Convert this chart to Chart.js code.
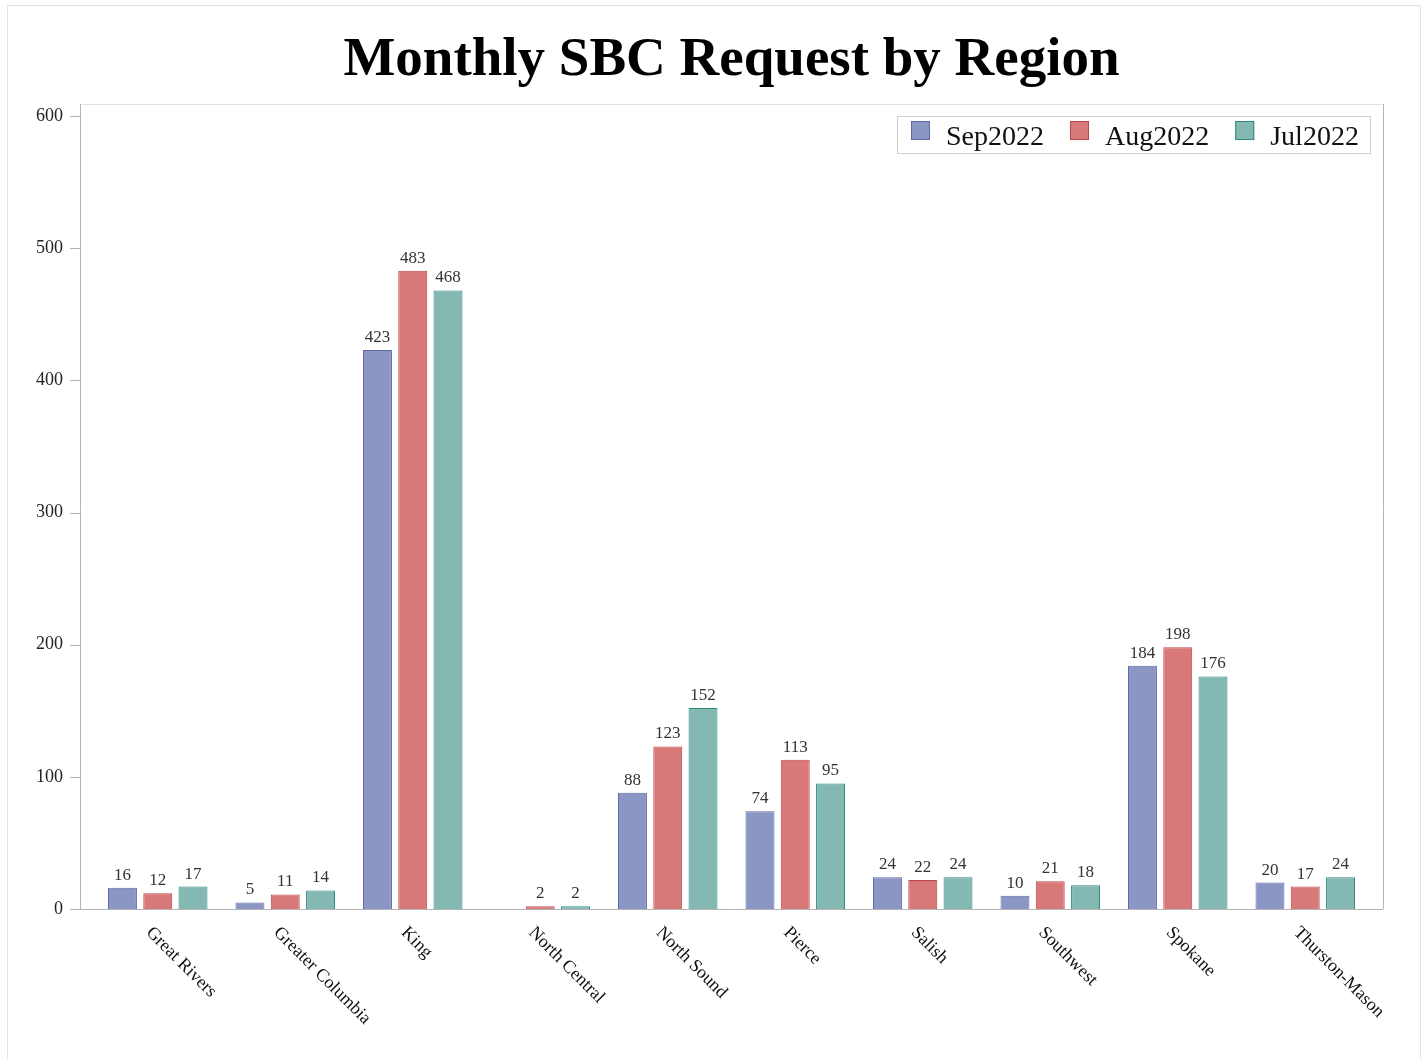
<!DOCTYPE html>
<html>
<head>
<meta charset="utf-8">
<script src="https://cdn.jsdelivr.net/npm/chart.js@4/dist/chart.umd.min.js"></script>
<style>
  html, body { margin: 0; padding: 0; background: #fff; }
  #wrap { width: 1427px; height: 1059px; }
</style>
</head>
<body>
<div id="wrap"><canvas id="chart"></canvas></div>
<script>
// data
const regions = ["Great Rivers", "Greater Columbia", "King", "North Central", "North Sound",
  "Pierce", "Salish", "Southwest", "Spokane", "Thurston-Mason"];
const sep2022 = [16, 5, 423, null, 88, 74, 24, 10, 184, 20];
const aug2022 = [12, 11, 483, 2, 123, 113, 22, 21, 198, 17];
const jul2022 = [17, 14, 468, 2, 152, 95, 24, 18, 176, 24];
const yTicks = [0, 100, 200, 300, 400, 500, 600];
const titleText = "Monthly SBC Request by Region";

const SERIF = "'Liberation Serif', 'Times New Roman', serif";
const PAD = 14; // gap between frame and first/last group

// frame, title, y tick marks, x labels, value labels, legend
const decor = {
  id: "decor",
  beforeDraw(chart) {
    const ctx = chart.ctx, a = chart.chartArea;
    ctx.save();
    ctx.fillStyle = "#fff";
    ctx.fillRect(0, 0, chart.width, chart.height);
    ctx.strokeStyle = "#e2e2e2";
    ctx.lineWidth = 1;
    ctx.strokeRect(7.5, 5.5, 1413, 1100);
    ctx.fillStyle = "#000";
    ctx.font = "bold 55px " + SERIF;
    ctx.textAlign = "center";
    ctx.textBaseline = "alphabetic";
    ctx.fillText(titleText, (a.left + a.right) / 2, 75);
    ctx.restore();
  },
  beforeDatasetsDraw(chart) {
    const { ctx, chartArea: a, scales } = chart;
    const L = a.left - PAD, R = a.right + PAD, T = a.top - 12, B = a.bottom;
    ctx.save();
    ctx.lineWidth = 1;
    ctx.strokeStyle = "#e0e0e0";
    ctx.beginPath();
    ctx.moveTo(L, T + 0.5); ctx.lineTo(R, T + 0.5);
    ctx.stroke();
    ctx.strokeStyle = "#b4b4b4";
    ctx.beginPath();
    ctx.moveTo(L + 0.5, T); ctx.lineTo(L + 0.5, B);
    ctx.moveTo(R + 0.5, T); ctx.lineTo(R + 0.5, B);
    ctx.stroke();
    // y tick marks
    ctx.beginPath();
    yTicks.forEach(v => {
      const y = Math.round(scales.y.getPixelForValue(v)) + 0.5;
      ctx.moveTo(L - 10, y); ctx.lineTo(L, y);
    });
    ctx.moveTo(L, B + 0.5); ctx.lineTo(R, B + 0.5);
    ctx.stroke();
    ctx.restore();
  },
  afterDatasetsDraw(chart) {
    const { ctx, chartArea: a, scales } = chart;
    ctx.save();
    // value labels
    ctx.font = "17px " + SERIF;
    ctx.fillStyle = "#333";
    ctx.textAlign = "center";
    ctx.textBaseline = "alphabetic";
    chart.data.datasets.forEach((ds, i) => {
      chart.getDatasetMeta(i).data.forEach((bar, j) => {
        if (ds.data[j] == null) return;
        ctx.fillText(ds.data[j], bar.x, bar.y - 8);
      });
    });
    // rotated category labels
    ctx.font = "18px " + SERIF;
    ctx.fillStyle = "#111";
    ctx.textAlign = "left";
    ctx.textBaseline = "middle";
    regions.forEach((r, i) => {
      const x = scales.x.getPixelForValue(i);
      ctx.save();
      ctx.translate(x - 9, a.bottom + 21);
      ctx.rotate(Math.PI / 4);
      ctx.fillText(r, 0, 0);
      ctx.restore();
    });
    // legend
    const lx = 897, ly = 116, lw = 473, lh = 37;
    ctx.strokeStyle = "#cfcfcf";
    ctx.strokeRect(lx + 0.5, ly + 0.5, lw, lh);
    ctx.font = "28px " + SERIF;
    ctx.textBaseline = "alphabetic";
    let x = lx + 14;
    chart.data.datasets.forEach(ds => {
      ctx.fillStyle = ds.backgroundColor;
      ctx.fillRect(x, ly + 5, 19, 19);
      ctx.strokeStyle = ds.borderColor;
      ctx.strokeRect(x + 0.5, ly + 5.5, 18, 18);
      ctx.fillStyle = "#111";
      ctx.fillText(ds.label, x + 35, ly + 29);
      x += 35 + ctx.measureText(ds.label).width + 26;
    });
    ctx.restore();
  }
};

new Chart(document.getElementById("chart"), {
  type: "bar",
  data: {
    labels: regions,
    datasets: [
      { label: "Sep2022", data: sep2022, backgroundColor: "#8c96c5", borderColor: "#5e69a8" },
      { label: "Aug2022", data: aug2022, backgroundColor: "#d87878", borderColor: "#bb4646" },
      { label: "Jul2022", data: jul2022, backgroundColor: "#84b8b3", borderColor: "#2c8a7f" }
    ]
  },
  options: {
    responsive: true,
    maintainAspectRatio: false,
    animation: false,
    devicePixelRatio: 1,
    layout: { padding: { top: 116, right: 58, left: 0, bottom: 0 } },
    datasets: {
      bar: { borderWidth: 1, categoryPercentage: 0.83, barPercentage: 0.82 }
    },
    plugins: {
      legend: { display: false },
      tooltip: { enabled: false },
      title: { display: false }
    },
    scales: {
      x: {
        offset: true,
        grid: { display: false },
        border: { display: false },
        ticks: { display: false },
        afterFit(s) { s.height = 150; }
      },
      y: {
        min: 0,
        max: 600,
        afterBuildTicks(s) { s.ticks = yTicks.map(v => ({ value: v })); },
        grid: { display: false },
        border: { display: false },
        ticks: { color: "#222", padding: 23, font: { family: SERIF, size: 18 } },
        afterFit(s) { s.width = 94; }
      }
    }
  },
  plugins: [decor]
});
</script>
</body>
</html>
